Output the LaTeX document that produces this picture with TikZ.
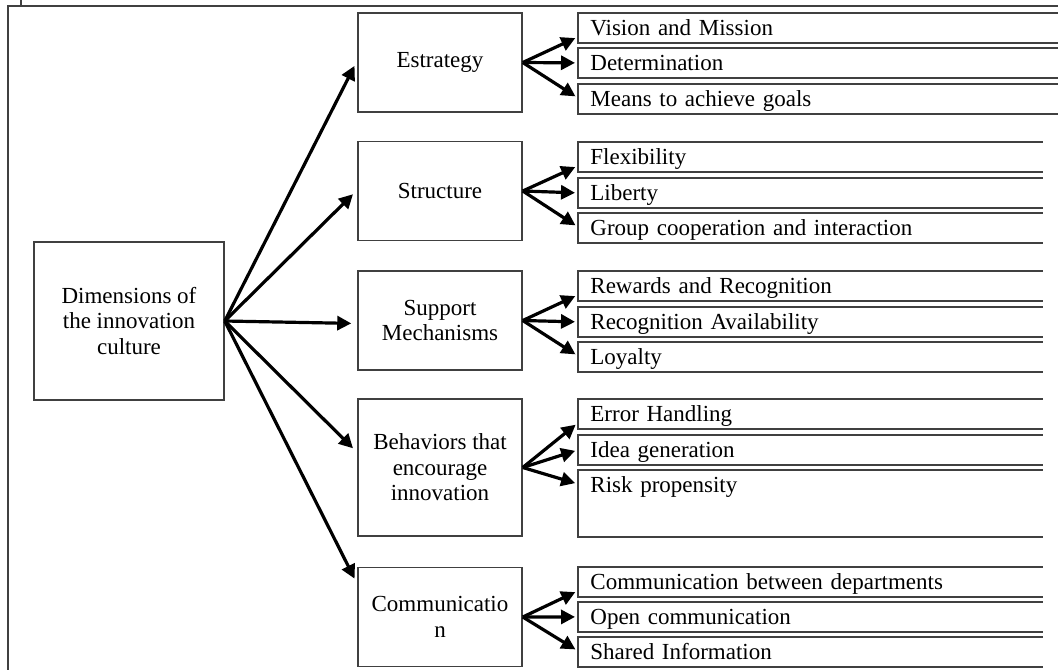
\documentclass[tikz,border=0pt]{standalone}
\usepackage{fontspec}
\setmainfont{Liberation Serif}
\usetikzlibrary{arrows.meta}
\tikzstyle{dimbox}=[draw=black!75,line width=0.75pt,minimum width=95pt,minimum height=79pt,align=center,font=\fontsize{11.5}{12.8}\selectfont]
\tikzstyle{midbox}=[draw=black!75,line width=0.75pt,minimum width=82pt,minimum height=49.5pt,align=center,font=\fontsize{11.5}{12.8}\selectfont]
\tikzstyle{subbox}=[anchor=north west,inner xsep=6pt,inner ysep=0pt,text height=11pt,text depth=3.5pt,text width=220pt,align=left,font=\fontsize{11.5}{12.8}\selectfont]
\tikzstyle{subline}=[draw=black!75,line width=0.75pt]
\tikzstyle{arr}=[draw,line width=1.6pt,-{Triangle[length=7pt,width=7pt]}]

\begin{document}
\begin{tikzpicture}[x=0.5pt,y=-0.5pt]
\useasboundingbox (0,0) rectangle (1058,669);
% frame of the page
\draw[subline] (1060,6) -- (8,6) -- (8,670);
\draw[subline] (21,-1) -- (21,6);

\node[dimbox] (dim) at (129,321) {Dimensions of\\the innovation\\culture};

\node[midbox] (est) at (440,62.5) {Estrategy};
\node[midbox] (str) at (440,191) {Structure};
\node[midbox] (sup) at (440,320.5) {Support\\Mechanisms};
\node[midbox,minimum height=68.5pt] (beh) at (440,467.5) {Behaviors that\\encourage\\innovation};
\node[midbox] (com) at (440,617) {Communicatio\\n};

% items
\node[subbox,text width=240pt] (vis) at (578,13) {Vision and Mission};
\node[subbox,text width=240pt] (det) at (578,48) {Determination};
\node[subbox,text width=240pt] (mea) at (578,84) {Means to achieve goals};
\node[subbox] (fle) at (578,142) {Flexibility};
\node[subbox] (lib) at (578,178) {Liberty};
\node[subbox] (gro) at (578,213) {Group cooperation and interaction};
\node[subbox] (rew) at (578,271) {Rewards and Recognition};
\node[subbox] (rec) at (578,307) {Recognition Availability};
\node[subbox] (loy) at (578,342) {Loyalty};
\node[subbox] (err) at (578,399) {Error Handling};
\node[subbox] (ide) at (578,435) {Idea generation};
\node[subbox,text depth=22pt] (ris) at (578,470) {Risk propensity};
\node[subbox] (cbd) at (578,567) {Communication between departments};
\node[subbox] (opn) at (578,602) {Open communication};
\node[subbox] (sha) at (578,637) {Shared Information};

\foreach \n in {vis,det,mea,fle,lib,gro,rew,rec,loy,err,ide,ris,cbd,opn,sha}
  \draw[subline] (\n.north east) -- (\n.north west) -- (\n.south west) -- (\n.south east);

% arrows
\foreach \m/\s in {est/1,str/0.5,sup/-1.5,beh/7.5,com/16.5}
  \draw[arr,shorten >=3pt] (dim.east) -- ([yshift=\s pt]\m.west);

\foreach \m/\a/\b/\c in {est/vis/det/mea,str/fle/lib/gro,sup/rew/rec/loy,beh/err/ide/ris,com/cbd/opn/sha}{
  \draw[arr,shorten >=1.5pt] (\m.east) -- ([yshift=3pt]\a.south west);
  \draw[arr,shorten >=1.5pt] (\m.east) -- (\b.west);
  \draw[arr,shorten >=1.5pt] (\m.east) -- ([yshift=-7pt]\c.north west);
}
\end{tikzpicture}
\end{document}
